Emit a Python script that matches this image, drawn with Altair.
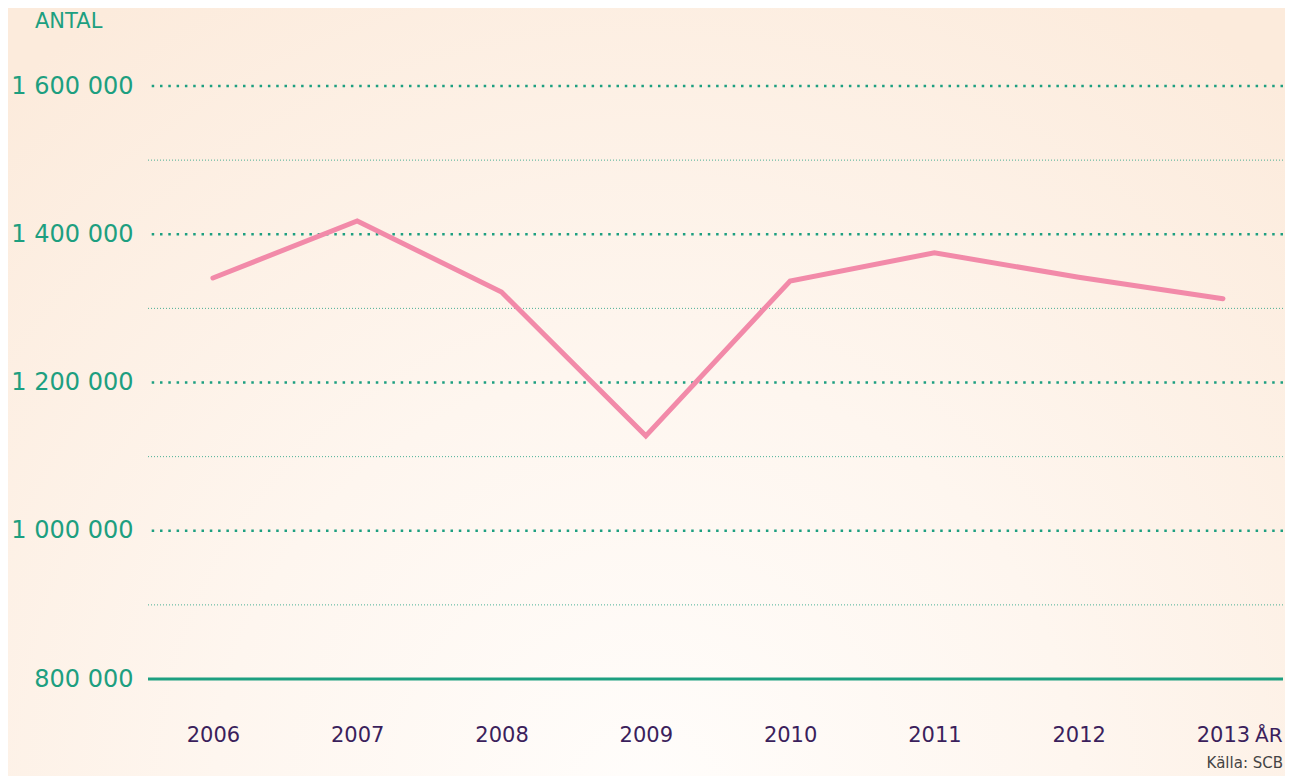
import altair as alt
import pandas as pd

years = [2006, 2007, 2008, 2009, 2010, 2011, 2012, 2013]
values = [1341000, 1418000, 1322000, 1128000, 1337000, 1375000, 1342000, 1313000]
y_ticks = [800000, 1000000, 1200000, 1400000, 1600000]
major_grid = [1000000, 1200000, 1400000, 1600000]
minor_grid = [900000, 1100000, 1300000, 1500000]
baseline = [800000]

TEAL = "#1d9f80"
PINK = "#f28aa9"
PURPLE = "#3b1f5c"
FONT = "DejaVu Sans"

W, H = 1135, 593
PAD = {"left": 140, "top": 78, "right": 2, "bottom": 97}

yscale = alt.Scale(domain=[800000, 1600000], nice=False, zero=False)
xscale = alt.Scale(domain=[2005.55, 2013.416], nice=False, zero=False)

yaxis = alt.Axis(
    values=y_ticks, title=None, domain=False, ticks=False, grid=False,
    labelFontSize=24, labelColor=TEAL, labelPadding=15, labelFont=FONT,
    zindex=2,
    labelExpr="replace(replace(format(datum.value, ','), ',', ' '), ',', ' ')")
xaxis = alt.Axis(
    values=years, format="d", title=None, domain=False, ticks=False,
    grid=False, labelFontSize=21, labelColor=PURPLE, labelPadding=45,
    labelFont=FONT, labelFlush=False, zindex=2)

df = pd.DataFrame({"year": years, "value": values})

bg = alt.Chart(pd.DataFrame({"a": [0]})).mark_rect(
    color=alt.RadialGradient(
        gradient="radial",
        x1=0.5, y1=0.82, r1=0.0,
        x2=0.5, y2=0.82, r2=0.75,
        stops=[
            alt.GradientStop(offset=0, color="#fffdfb"),
            alt.GradientStop(offset=0.45, color="#fef6ef"),
            alt.GradientStop(offset=1, color="#fcebdc"),
        ],
    )
).encode(
    x=alt.value(-PAD["left"]), x2=alt.value(W + PAD["right"]),
    y=alt.value(-PAD["top"]), y2=alt.value(H + PAD["bottom"]),
)

minor = alt.Chart(pd.DataFrame({"v": minor_grid})).mark_rule(
    color=TEAL, strokeWidth=1, strokeDash=[1, 2], opacity=0.8
).encode(y=alt.Y("v:Q", scale=yscale, axis=yaxis))

major = alt.Chart(pd.DataFrame({"v": major_grid})).mark_rule(
    color=TEAL, strokeWidth=2.5, strokeDash=[2.5, 5.8]
).encode(y=alt.Y("v:Q", scale=yscale, axis=yaxis))

base = alt.Chart(pd.DataFrame({"v": baseline})).mark_rule(
    color=TEAL, strokeWidth=3
).encode(y=alt.Y("v:Q", scale=yscale, axis=yaxis))

line = alt.Chart(df).mark_line(
    color=PINK, strokeWidth=5, strokeCap="round"
).encode(
    x=alt.X("year:Q", scale=xscale, axis=xaxis),
    y=alt.Y("value:Q", scale=yscale, axis=yaxis),
)

def label(txt, x, y, size, color, align="left", baseline="middle"):
    return alt.Chart(pd.DataFrame({"t": [txt]})).mark_text(
        font=FONT, fontSize=size, color=color, align=align, baseline=baseline
    ).encode(x=alt.value(x), y=alt.value(y), text="t:N")

antal = label("ANTAL", -113, -64, 21, TEAL)
ar = label("ÅR", 1107, 656, 20, PURPLE, baseline="alphabetic")
kalla = label("Källa: SCB", W, 682, 15, "#444444", align="right", baseline="alphabetic")

chart = alt.layer(bg, minor, major, base, line, antal, ar, kalla).properties(
    width=W, height=H,
    autosize=alt.AutoSizeParams(type="none"),
    padding=PAD,
    background="#fcefe3",
).configure_view(stroke=None)

chart.save("out.html", embed_options={"renderer": "svg", "actions": False})
